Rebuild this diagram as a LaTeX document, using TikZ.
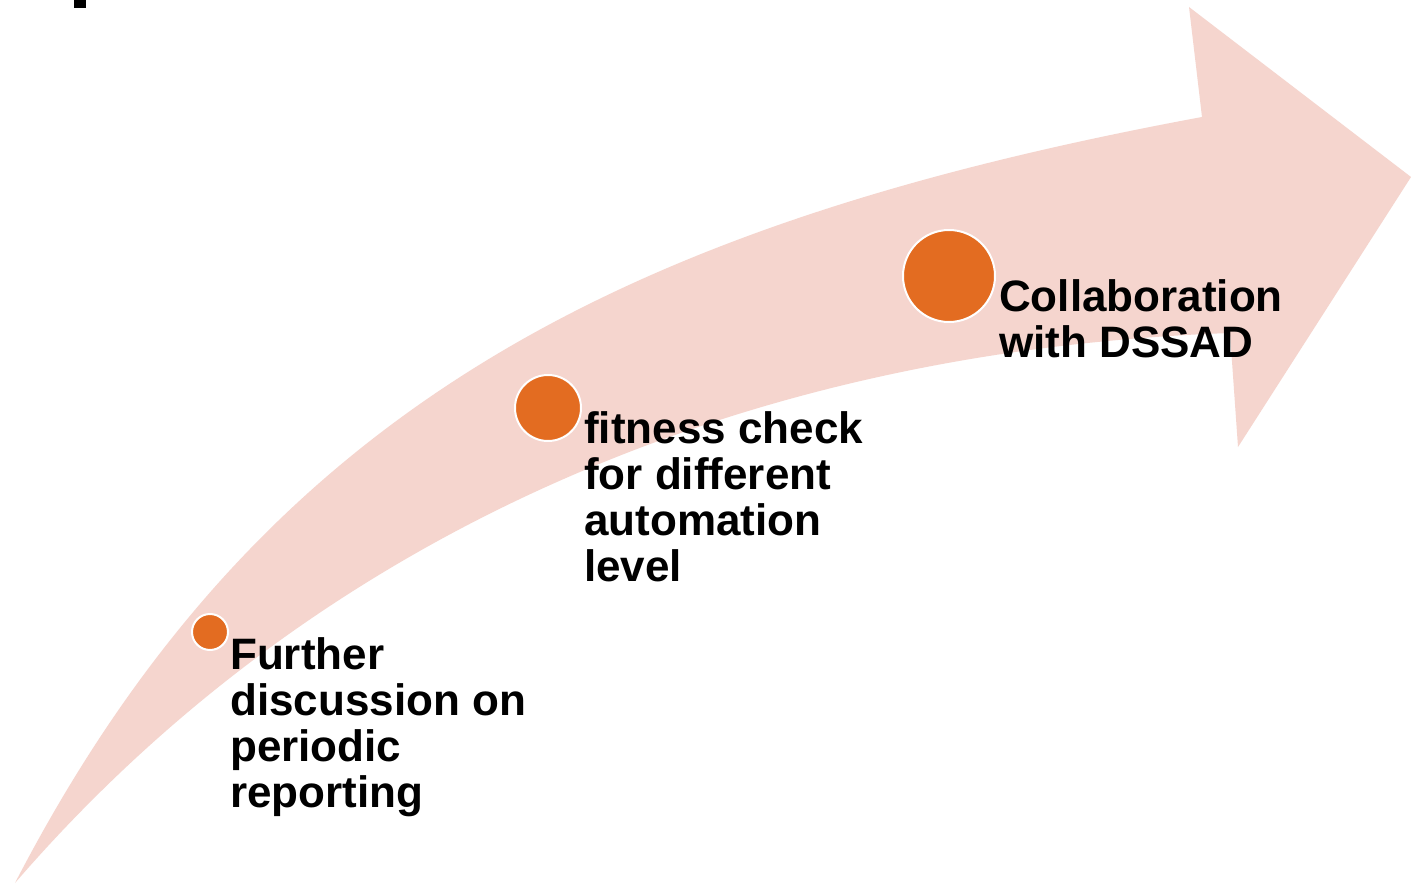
\documentclass[tikz,border=0pt]{standalone}
\usepackage{fontspec}
\setmainfont{Liberation Sans}
\definecolor{band}{RGB}{245,213,206}
\definecolor{dot}{RGB}{227,108,33}
\begin{document}
\begin{tikzpicture}[x=1pt,y=-1pt,
  dotstyle/.style={circle,fill=dot,draw=white,line width=2pt,inner sep=0pt},
  lbl/.style={anchor=north west,inner sep=0pt,align=left,font=\fontsize{44}{46}\selectfont\bfseries,text=black}]
\useasboundingbox (0,0) rectangle (1411,885);
\fill[white] (0,0) rectangle (1411,885);
% partial title glyph
\fill[black] (74,0) rectangle (86,8);
% curved arrow
\fill[band] (15,883) .. controls (260,410) and (620,225) .. (1202,117)
  -- (1189,7) -- (1411,177) -- (1238,447) -- (1230,333)
  .. controls (750,350) and (320,530) .. (15,883) -- cycle;
% dots
\node[dotstyle,minimum size=36pt] (d1) at (210,632) {};
\node[dotstyle,minimum size=66pt] (d2) at (548,408) {};
\node[dotstyle,minimum size=92pt] (d3) at (949,276) {};
% labels
\node[lbl] (t1) at (230,637) {Further\\discussion on\\periodic\\reporting};
\node[lbl] (t2) at (584,411) {fitness check\\for different\\automation\\level};
\node[lbl] (t3) at (999,279) {Collaboration\\with DSSAD};
\end{tikzpicture}
\end{document}
